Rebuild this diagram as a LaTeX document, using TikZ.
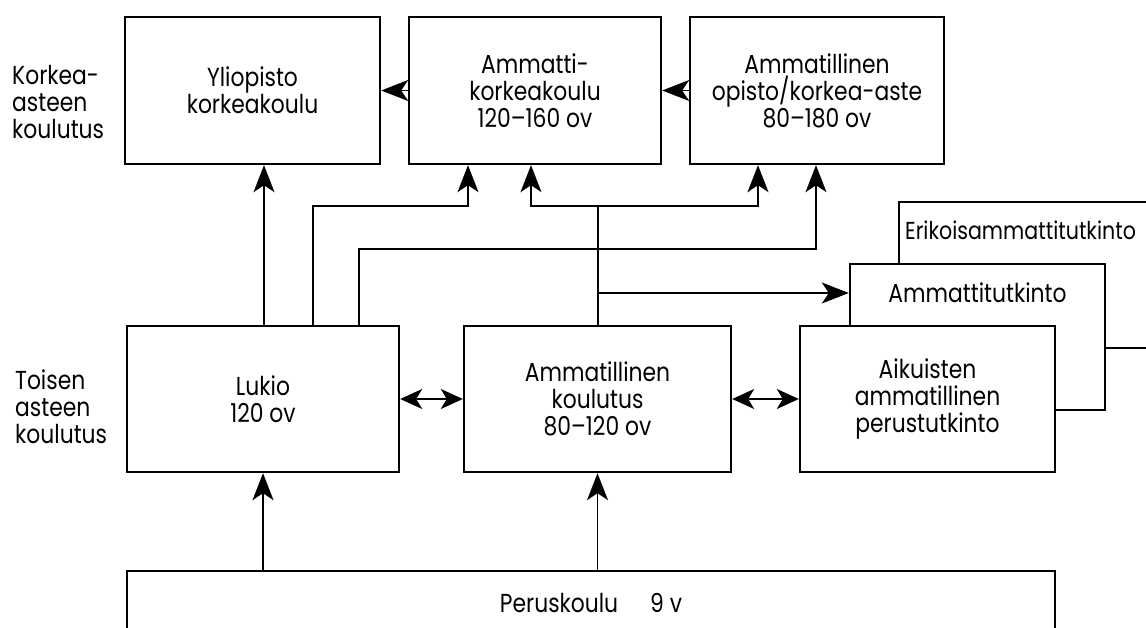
\documentclass[tikz,border=0pt]{standalone}
\usepackage{fontspec}
\setmainfont{Poppins}[FakeStretch=0.84]
\usetikzlibrary{arrows.meta}
\begin{document}
\begin{tikzpicture}[x=1pt,y=-1pt,
  txt/.style={inner sep=0pt, font=\fontsize{26}{27}\selectfont},
  box/.style={draw, line width=2.4pt, rectangle, inner sep=0pt, align=center, fill=white, font=\fontsize{26}{27}\selectfont},
  ln/.style={line width=1.6pt},
  arr/.style={line width=1.6pt, -{Stealth[length=27pt,width=21pt,inset=7pt]}},
  darr/.style={line width=1.6pt, {Stealth[length=22pt,width=20pt,inset=6pt]}-{Stealth[length=22pt,width=20pt,inset=6pt]}}]
\useasboundingbox (0,0) rectangle (1146,628);
\clip (0,0) rectangle (1146,628);
% top row
\node[box, minimum width=255pt, minimum height=147pt] (yl) at (252.5,90.5) {Yliopisto\\korkeakoulu};
\node[box, minimum width=252pt, minimum height=147pt] (amk) at (535,90.5) {Ammatti-\\korkeakoulu\\120–160 ov};
\node[box, minimum width=254pt, minimum height=147pt] (op) at (817,90.5) {Ammatillinen\\opisto/korkea-aste\\80–180 ov};
% stacked boxes on the right
\node[box, minimum width=300pt, minimum height=146pt] (erik) at (1049,275) {};
\node[txt, anchor=west, font=\fontsize{24.5}{27}\selectfont] (erikt) at (905,230) {Erikoisammattitutkinto};
\node[box, minimum width=255pt, minimum height=146pt] (amt) at (977.5,337) {};
\node[txt] (amtt) at (977.5,293) {Ammattitutkinto};
% middle row
\node[box, minimum width=272pt, minimum height=146pt] (lukio) at (263,399) {Lukio\\120 ov};
\node[box, minimum width=267pt, minimum height=146pt] (ak) at (597.5,399) {Ammatillinen\\koulutus\\80–120 ov};
\node[box, minimum width=255pt, minimum height=146pt] (aik) at (927.5,399) {Aikuisten\\ammatillinen\\perustutkinto};
% bottom
\node[box, minimum width=928pt, minimum height=64pt, anchor=north] (pk) at (591,570) {Peruskoulu\hspace{32pt}9 v};
% side labels
\node[txt, align=left, anchor=west] (lab1) at (12,102) {Korkea-\\asteen\\koulutus};
\node[txt, align=left, anchor=west] (lab2) at (15,407) {Toisen\\asteen\\koulutus};
% connectors
\coordinate (j1) at (598,206);
\coordinate (j2) at (598,293);
\coordinate (c1) at (468,206);
\coordinate (c2) at (816,249);
\draw[ln] (ak.north -| j1) -- (j1);
\draw[arr] (j1) -| (amk.south -| 531,0);
\draw[arr] (j1) -| (op.south -| 758,0);
\draw[arr] (j2) -- (amt.west |- j2);
\draw[arr] (lukio.north -| 313,0) |- (c1) -- (amk.south -| c1);
\draw[arr] (lukio.north -| 359,0) |- (c2) -- (op.south -| c2);
\draw[arr] (lukio.north -| 264,0) -- (yl.south -| 264,0);
\draw[arr] (amk.west) -- (yl.east);
\draw[arr] (op.west) -- (amk.east);
\draw[darr] (lukio.east) -- (ak.west);
\draw[darr] (ak.east) -- (aik.west);
\draw[arr] (pk.north -| lukio.south) -- (lukio.south);
\draw[arr] (pk.north -| ak.south) -- (ak.south);
\end{tikzpicture}
\end{document}
